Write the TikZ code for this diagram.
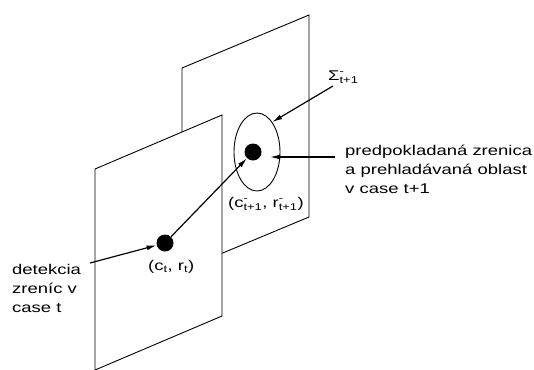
\documentclass[tikz,border=0pt]{standalone}
\usepackage{amsmath}
\usepackage{fontspec}
\setmainfont{Liberation Sans}[FakeStretch=1.31]
\usetikzlibrary{arrows.meta,shapes.geometric}
\tikzset{
  plane/.style={draw=black,line width=0.9bp,fill=white,line join=miter},
  dot/.style={circle,fill=black,inner sep=0pt,minimum size=17bp},
  arr/.style={line width=1.2bp,-{Latex[length=10bp,width=5bp]}},
  lab/.style={inner sep=0pt,font=\fontsize{14.1bp}{18.8bp}\selectfont,align=left},
}
\begin{document}
\begin{tikzpicture}[x=1bp,y=-1bp]
\useasboundingbox (0,0) rectangle (534,369);
% back plane
\draw[plane] (182,68) -- (309,15) -- (309,217) -- (182,270) -- cycle;
% front plane
\draw[plane] (95,169) -- (222,115) -- (222,316) -- (95,370) -- cycle;
% ellipse and dots
\node[ellipse,draw,line width=0.9bp,minimum width=46bp,minimum height=78bp,inner sep=0pt] (ell) at (257,152) {};
\node[dot] (d2) at (253,152) {};
\node[dot] (d1) at (165,243) {};
% labels
\node[lab,anchor=base west] (rl) at (345,193) {predpokladaná zrenica\\a prehladávaná oblast\\v case t+1};
\node[lab,anchor=base west] (ll) at (12,312) {detekcia\\zreníc v\\case t};
\node[lab,anchor=base west] (ct) at (148,270) {(c$_{\text{t}}$, r$_{\text{t}}$)};
\node[lab,anchor=base west] (cn) at (228,207) {(c$^{\text{-}}_{\text{t+1}}$, r$^{\text{-}}_{\text{t+1}}$)};
\node[lab,anchor=base west] (sg) at (328,80) {$\text{Σ}^{\text{-}}_{\text{t+1}}$};
% connector ends
\coordinate (la) at (90,263);
\coordinate (sa) at (333,86);
\coordinate (ra) at (335,157);
\coordinate (rt) at (270,157);
% arrows
\draw[arr] (d1) -- (d2);
\draw[arr] (la) -- (d1);
\draw[arr] (sa) -- (ell.63);
\draw[arr] (ra) -- (rt);
\end{tikzpicture}
\end{document}
